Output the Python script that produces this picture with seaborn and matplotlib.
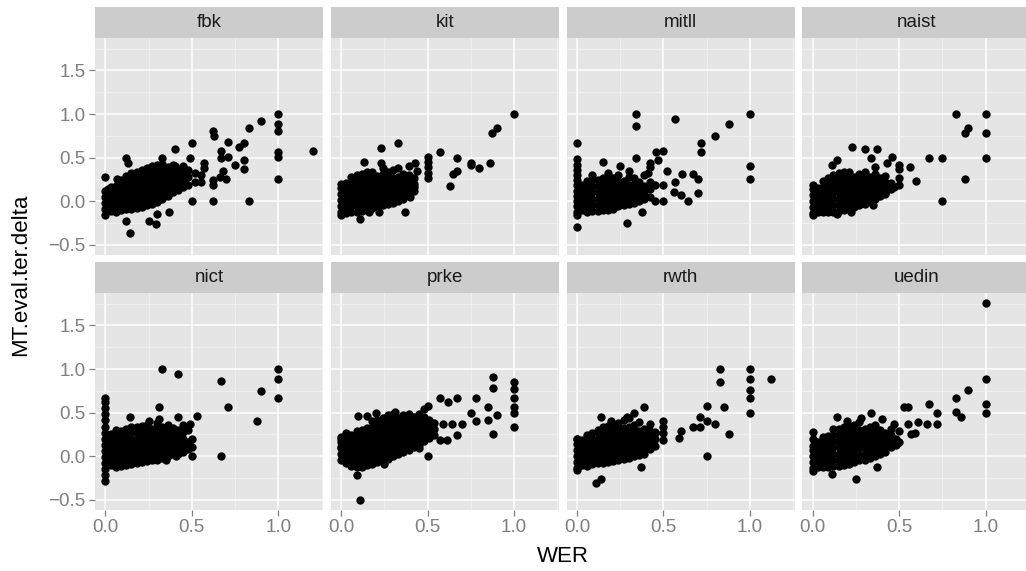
import matplotlib
matplotlib.use("Agg")
import matplotlib.pyplot as plt
import seaborn as sns
import pandas as pd
from matplotlib.ticker import FixedLocator

# ---------------- data ----------------
systems = ["fbk", "kit", "mitll", "naist", "nict", "prke", "rwth", "uedin"]

# isolated points: (WER, MT.eval.ter.delta)
fbk_pts = [(1.0, 1.0), (1.0, 0.89), (1.0, 0.81), (1.0, 0.56), (1.0, 0.51), (1.0, 0.25), (1.2, 0.58),
           (0.90, 0.92), (0.83, 0.84), (0.62, 0.80), (0.63, 0.75), (0.50, 0.67), (0.71, 0.68),
           (0.77, 0.62), (0.80, 0.67), (0.67, 0.58), (0.67, 0.50), (0.71, 0.51), (0.80, 0.47),
           (0.75, 0.42), (0.80, 0.37), (0.83, 0.0), (0.62, 0.0), (0.50, 0.0), (0.40, 0.60),
           (0.33, 0.50), (0.12, 0.50), (0.13, 0.44), (0.49, 0.50), (0.57, 0.44), (0.0, 0.28),
           (0.0, -0.16), (0.14, -0.37), (0.12, -0.23), (0.25, -0.23), (0.29, -0.26), (0.30, -0.15),
           (0.37, -0.12), (0.07, 0.25), (0.62, 0.24), (0.62, 0.18), (0.66, 0.28), (0.70, 0.25),
           (0.68, 0.35), (0.55, 0.30), (0.57, 0.38), (0.55, 0.22)]
kit_pts = [(1.0, 1.0), (0.90, 0.84), (0.87, 0.78), (0.33, 0.67), (0.23, 0.61), (0.57, 0.56),
           (0.67, 0.50), (0.75, 0.44), (0.75, 0.41), (0.80, 0.38), (0.86, 0.44), (0.67, 0.35),
           (0.65, 0.31), (0.63, 0.17), (0.5, 0.51), (0.5, 0.45), (0.5, 0.39), (0.5, 0.32),
           (0.5, 0.26), (0.43, 0.44), (0.44, 0.35), (0.13, 0.45), (0.23, 0.44), (0.0, 0.20),
           (0.0, -0.16), (0.11, -0.20), (0.37, -0.12), (0.16, -0.12), (0.22, -0.12), (0.42, 0.16),
           (0.40, 0.05)]
mitll_pts = [(1.0, 1.0), (1.0, 0.40), (1.0, 0.25), (0.88, 0.89), (0.80, 0.75), (0.72, 0.67),
             (0.72, 0.56), (0.57, 0.94), (0.34, 1.0), (0.34, 0.86), (0.34, 0.50), (0.46, 0.56),
             (0.50, 0.58), (0.42, 0.44), (0.47, 0.47), (0.52, 0.35), (0.15, 0.45), (0.25, 0.40),
             (0.0, 0.67), (0.0, -0.16), (0.0, -0.30), (0.29, -0.25), (0.375, -0.12), (0.57, 0.22),
             (0.61, 0.31), (0.67, 0.31), (0.70, 0.25), (0.56, 0.10), (0.60, 0.07), (0.64, 0.0),
             (0.70, 0.09), (0.50, 0.0), (0.45, 0.0), (0.50, 0.19), (0.45, 0.19), (0.41, 0.32),
             (0.42, 0.39)]
naist_pts = [(1.0, 1.0), (0.83, 1.0), (1.0, 0.78), (0.90, 0.84), (0.88, 0.78), (1.0, 0.50),
             (0.88, 0.25), (0.75, 0.0), (0.67, 0.50), (0.75, 0.50), (0.60, 0.23), (0.56, 0.39),
             (0.50, 0.41), (0.50, 0.37), (0.46, 0.51), (0.43, 0.44), (0.23, 0.62), (0.30, 0.60),
             (0.37, 0.60), (0.34, 0.50), (0.14, 0.47), (0.11, 0.42), (0.36, 0.39), (0.0, 0.19),
             (0.0, -0.16), (0.14, -0.15), (0.22, -0.12), (0.35, -0.04), (0.5, 0.26), (0.5, 0.18),
             (0.42, 0.09), (0.47, 0.16)]
nict_pts = [(1.0, 1.0), (1.0, 0.89), (1.0, 0.67), (0.90, 0.75), (0.875, 0.40), (0.67, 0.86),
            (0.71, 0.56), (0.67, 0.0), (0.33, 1.0), (0.42, 0.94), (0.31, 0.56), (0.53, 0.46),
            (0.49, 0.37), (0.5, 0.20), (0.5, 0.10), (0.5, 0.0), (0.42, 0.45), (0.14, 0.45),
            (0.25, 0.40), (0.31, 0.43), (0.35, -0.05), (0.41, 0.0)]
prke_pts = [(1.0, 0.85), (1.0, 0.77), (1.0, 0.67), (1.0, 0.56), (1.0, 0.50), (1.0, 0.34),
            (0.88, 0.91), (0.88, 0.78), (0.85, 0.56), (0.90, 0.47), (0.85, 0.41), (0.88, 0.25),
            (0.78, 0.67), (0.78, 0.40), (0.75, 0.50), (0.67, 0.67), (0.62, 0.62), (0.57, 0.67),
            (0.70, 0.37), (0.67, 0.24), (0.64, 0.37), (0.59, 0.37), (0.57, 0.18), (0.61, 0.19),
            (0.5, 0.57), (0.5, 0.0), (0.10, 0.46), (0.15, 0.46), (0.20, 0.50), (0.27, 0.47),
            (0.31, 0.51), (0.39, 0.45), (0.46, 0.45), (0.11, -0.50), (0.09, -0.22), (0.25, -0.09),
            (0.45, 0.09), (0.0, 0.20), (0.0, 0.11)]
rwth_pts = [(1.0, 1.0), (1.0, 0.88), (1.0, 0.76), (1.0, 0.67), (1.0, 0.50), (1.12, 0.89),
            (0.83, 1.0), (0.83, 0.85), (0.75, 0.57), (0.85, 0.56), (0.71, 0.45), (0.75, 0.40),
            (0.80, 0.37), (0.67, 0.34), (0.71, 0.34), (0.88, 0.25), (0.75, 0.0), (0.60, 0.29),
            (0.59, 0.21), (0.5, 0.40), (0.5, 0.34), (0.5, 0.27), (0.5, 0.18), (0.39, 0.56),
            (0.33, 0.50), (0.29, 0.45), (0.20, 0.40), (0.14, 0.45), (0.42, 0.37), (0.45, 0.26),
            (0.37, -0.13), (0.11, -0.31), (0.14, -0.26), (0.0, -0.16), (0.0, 0.20)]
uedin_pts = [(1.0, 1.76), (1.0, 0.89), (1.0, 0.60), (1.0, 0.50), (0.90, 0.76), (0.83, 0.67),
             (0.83, 0.51), (0.86, 0.45), (0.67, 0.60), (0.72, 0.50), (0.72, 0.37), (0.66, 0.37),
             (0.53, 0.56), (0.55, 0.56), (0.61, 0.39), (0.55, 0.37), (0.59, 0.27), (0.57, 0.25),
             (0.47, 0.37), (0.50, 0.29), (0.50, 0.16), (0.14, 0.45), (0.20, 0.40), (0.28, 0.44),
             (0.34, 0.50), (0.40, 0.43), (0.0, 0.28), (0.0, 0.20), (0.0, -0.17), (0.11, -0.20),
             (0.25, -0.26), (0.37, -0.13)]

# dense clusters, read column by column: (WER, [MT.eval.ter.delta values])
fbk_cluster = [(0.00, [-0.09, -0.02, 0.05, 0.12]), (0.03, [-0.11, -0.04, 0.03, 0.10, 0.16]),
               (0.06, [-0.12, -0.05, 0.02, 0.09, 0.17]), (0.09, [-0.10, -0.03, 0.04, 0.11, 0.19, 0.24]),
               (0.12, [-0.09, -0.02, 0.06, 0.13, 0.21, 0.29]), (0.15, [-0.09, -0.01, 0.08, 0.16, 0.24, 0.32]),
               (0.18, [-0.08, 0.00, 0.10, 0.18, 0.26, 0.33]), (0.21, [-0.07, 0.02, 0.12, 0.20, 0.28, 0.36]),
               (0.24, [-0.05, 0.05, 0.14, 0.22, 0.30, 0.38]), (0.27, [-0.03, 0.07, 0.17, 0.25, 0.33, 0.40]),
               (0.30, [-0.01, 0.09, 0.19, 0.27, 0.35, 0.41]), (0.33, [0.02, 0.12, 0.21, 0.29, 0.37, 0.43]),
               (0.36, [0.06, 0.15, 0.23, 0.31, 0.39]), (0.39, [0.10, 0.18, 0.26, 0.34, 0.42]),
               (0.42, [0.13, 0.21, 0.29, 0.37]), (0.45, [0.16, 0.24, 0.32, 0.40]),
               (0.48, [0.19, 0.28, 0.36]), (0.52, [0.22, 0.32]),
               (0.015, [-0.06, 0.01, 0.08, 0.14]), (0.045, [-0.08, -0.01, 0.06, 0.13]),
               (0.075, [-0.09, -0.01, 0.06, 0.13, 0.20]), (0.105, [-0.06, 0.01, 0.08, 0.15, 0.22]),
               (0.135, [-0.05, 0.02, 0.10, 0.17, 0.25]), (0.165, [-0.04, 0.04, 0.12, 0.20, 0.28]),
               (0.195, [-0.03, 0.06, 0.14, 0.22, 0.30]), (0.225, [-0.02, 0.08, 0.16, 0.24, 0.32]),
               (0.255, [0.00, 0.10, 0.18, 0.26, 0.34]), (0.285, [0.03, 0.13, 0.21, 0.29, 0.37]),
               (0.315, [0.05, 0.15, 0.23, 0.31, 0.39]), (0.345, [0.09, 0.18, 0.26, 0.34]),
               (0.375, [0.12, 0.20, 0.28, 0.36]), (0.405, [0.16, 0.24, 0.32, 0.40]),
               (0.435, [0.19, 0.27, 0.35])]
kit_cluster = [(0.00, [-0.13, -0.06, 0.01, 0.08, 0.15]), (0.03, [-0.14, -0.07, 0.00, 0.07, 0.14, 0.21]),
               (0.06, [-0.13, -0.06, 0.01, 0.08, 0.15, 0.22, 0.28]), (0.09, [-0.12, -0.05, 0.02, 0.09, 0.16, 0.23, 0.30]),
               (0.12, [-0.11, -0.04, 0.03, 0.10, 0.17, 0.24, 0.31]), (0.15, [-0.10, -0.03, 0.04, 0.11, 0.18, 0.25, 0.33]),
               (0.18, [-0.08, -0.01, 0.06, 0.13, 0.20, 0.27, 0.34]), (0.21, [-0.06, 0.01, 0.08, 0.15, 0.22, 0.29]),
               (0.24, [-0.04, 0.03, 0.10, 0.17, 0.24, 0.31, 0.38]), (0.27, [-0.03, 0.04, 0.11, 0.18, 0.25, 0.33]),
               (0.30, [-0.02, 0.05, 0.12, 0.19, 0.26, 0.36]), (0.33, [0.00, 0.07, 0.14, 0.21, 0.28, 0.38]),
               (0.36, [0.03, 0.10, 0.17, 0.24, 0.31]), (0.39, [0.08, 0.15, 0.22, 0.30, 0.40]),
               (0.42, [0.12, 0.20, 0.27])]
mitll_cluster = [(0.00, [-0.12, -0.06, 0.00, 0.06, 0.12, 0.18, 0.24, 0.30, 0.36, 0.42, 0.48]),
                 (0.03, [-0.10, -0.03, 0.04, 0.11, 0.18]), (0.06, [-0.12, -0.05, 0.02, 0.09, 0.16, 0.23]),
                 (0.09, [-0.11, -0.04, 0.03, 0.10, 0.17, 0.24, 0.30]), (0.12, [-0.11, -0.04, 0.03, 0.10, 0.17, 0.24]),
                 (0.15, [-0.10, -0.03, 0.04, 0.11, 0.18, 0.26]), (0.18, [-0.10, -0.03, 0.04, 0.11, 0.18, 0.25, 0.32]),
                 (0.21, [-0.09, -0.02, 0.05, 0.12, 0.19, 0.27]), (0.24, [-0.06, 0.01, 0.08, 0.15, 0.22, 0.30]),
                 (0.27, [-0.05, 0.02, 0.09, 0.16, 0.23]), (0.30, [-0.03, 0.04, 0.11, 0.18, 0.28, 0.35]),
                 (0.33, [-0.02, 0.05, 0.12, 0.20, 0.26]), (0.36, [0.00, 0.07, 0.14, 0.22]),
                 (0.39, [0.02, 0.10, 0.17, 0.30]), (0.42, [0.05, 0.14, 0.22])]
naist_cluster = [(0.00, [-0.14, -0.07, 0.00, 0.07, 0.14]), (0.03, [-0.13, -0.06, 0.01, 0.08, 0.15]),
                 (0.06, [-0.12, -0.05, 0.02, 0.09, 0.16, 0.23]), (0.09, [-0.13, -0.06, 0.01, 0.08, 0.15, 0.22, 0.27]),
                 (0.12, [-0.12, -0.05, 0.02, 0.09, 0.16, 0.23, 0.30]), (0.15, [-0.11, -0.04, 0.03, 0.10, 0.17, 0.24, 0.32]),
                 (0.18, [-0.10, -0.03, 0.04, 0.11, 0.18, 0.25, 0.33]), (0.21, [-0.09, -0.02, 0.05, 0.12, 0.19, 0.26, 0.34]),
                 (0.24, [-0.07, 0.00, 0.07, 0.14, 0.21, 0.28]), (0.27, [-0.05, 0.02, 0.09, 0.16, 0.23, 0.31]),
                 (0.30, [-0.03, 0.04, 0.11, 0.18, 0.25, 0.34]), (0.33, [0.00, 0.07, 0.14, 0.21, 0.28]),
                 (0.36, [0.03, 0.10, 0.17, 0.24, 0.31]), (0.39, [0.06, 0.13, 0.20, 0.27]),
                 (0.42, [0.08, 0.15, 0.22, 0.29]), (0.45, [0.14, 0.21])]
nict_cluster = [(0.00, [-0.29, -0.22, -0.15, -0.08, -0.01, 0.06, 0.13, 0.20, 0.27, 0.34, 0.41, 0.48, 0.55, 0.62, 0.67]),
                (0.03, [-0.10, -0.03, 0.04, 0.11, 0.18, 0.25]), (0.06, [-0.12, -0.05, 0.02, 0.09, 0.16, 0.23, 0.30]),
                (0.09, [-0.11, -0.04, 0.03, 0.10, 0.17, 0.24, 0.29]), (0.12, [-0.10, -0.03, 0.04, 0.11, 0.18, 0.25, 0.31]),
                (0.15, [-0.09, -0.02, 0.05, 0.12, 0.19, 0.26, 0.33]), (0.18, [-0.08, -0.01, 0.06, 0.13, 0.20, 0.27, 0.33]),
                (0.21, [-0.07, 0.00, 0.07, 0.14, 0.21, 0.28, 0.35]), (0.24, [-0.06, 0.01, 0.08, 0.15, 0.22, 0.29, 0.36]),
                (0.27, [-0.04, 0.03, 0.10, 0.17, 0.24, 0.31]), (0.30, [-0.05, 0.02, 0.09, 0.16, 0.23, 0.30, 0.38]),
                (0.33, [-0.02, 0.05, 0.12, 0.19, 0.26, 0.33]), (0.36, [0.00, 0.07, 0.14, 0.21, 0.28, 0.36]),
                (0.39, [0.03, 0.10, 0.17, 0.24, 0.32]), (0.42, [0.02, 0.09, 0.16, 0.23, 0.30]),
                (0.45, [0.05, 0.12, 0.20, 0.28, 0.36]), (0.48, [0.08, 0.16, 0.30])]
prke_cluster = [(0.00, [-0.05, 0.02, 0.09, 0.16, 0.22]), (0.03, [-0.08, -0.01, 0.06, 0.13, 0.20, 0.26]),
                (0.06, [-0.11, -0.04, 0.03, 0.10, 0.17, 0.24]), (0.09, [-0.13, -0.06, 0.01, 0.08, 0.15, 0.22, 0.29]),
                (0.12, [-0.12, -0.05, 0.02, 0.09, 0.16, 0.23, 0.30]), (0.15, [-0.10, -0.03, 0.04, 0.11, 0.18, 0.25, 0.32]),
                (0.18, [-0.09, -0.02, 0.05, 0.12, 0.19, 0.26, 0.33, 0.40]), (0.21, [-0.07, 0.00, 0.07, 0.14, 0.21, 0.28, 0.35, 0.42]),
                (0.24, [-0.05, 0.02, 0.09, 0.16, 0.23, 0.30, 0.37, 0.44]), (0.27, [-0.03, 0.04, 0.11, 0.18, 0.25, 0.32, 0.39, 0.46]),
                (0.30, [0.00, 0.07, 0.14, 0.21, 0.28, 0.35, 0.42, 0.48]), (0.33, [0.02, 0.09, 0.16, 0.23, 0.30, 0.37, 0.44]),
                (0.36, [0.05, 0.12, 0.19, 0.26, 0.33, 0.40, 0.47]), (0.39, [0.07, 0.14, 0.21, 0.28, 0.35, 0.42, 0.48]),
                (0.42, [0.10, 0.17, 0.24, 0.31, 0.38, 0.45]), (0.45, [0.13, 0.20, 0.27, 0.34, 0.41, 0.48]),
                (0.48, [0.17, 0.24, 0.31, 0.38, 0.45, 0.54]), (0.51, [0.21, 0.28, 0.35, 0.42]),
                (0.54, [0.24, 0.31, 0.38])]
rwth_cluster = [(0.00, [-0.14, -0.07, 0.00, 0.07, 0.14, 0.20]), (0.03, [-0.10, -0.03, 0.04, 0.11, 0.18]),
                (0.06, [-0.11, -0.04, 0.03, 0.10, 0.17, 0.24]), (0.09, [-0.09, -0.02, 0.05, 0.12, 0.19, 0.26]),
                (0.12, [-0.08, -0.01, 0.06, 0.13, 0.20, 0.27, 0.30]), (0.15, [-0.08, -0.01, 0.06, 0.13, 0.20, 0.27, 0.33]),
                (0.18, [-0.07, 0.00, 0.07, 0.14, 0.21, 0.28, 0.35]), (0.21, [-0.06, 0.01, 0.08, 0.15, 0.22, 0.29, 0.36]),
                (0.24, [-0.05, 0.02, 0.09, 0.16, 0.23, 0.30, 0.38]), (0.27, [-0.03, 0.04, 0.11, 0.18, 0.25, 0.32, 0.42]),
                (0.30, [-0.02, 0.05, 0.12, 0.19, 0.26, 0.34, 0.44]), (0.33, [0.00, 0.07, 0.14, 0.21, 0.28, 0.36]),
                (0.36, [0.01, 0.08, 0.15, 0.22, 0.29, 0.39]), (0.39, [0.03, 0.10, 0.17, 0.24, 0.31]),
                (0.42, [0.08, 0.15, 0.22, 0.29]), (0.45, [0.12, 0.20, 0.28])]
uedin_cluster = [(0.00, [-0.14, -0.07, 0.00, 0.07, 0.12]), (0.03, [-0.12, -0.05, 0.02, 0.09, 0.16]),
                 (0.06, [-0.13, -0.06, 0.01, 0.08, 0.15, 0.22]), (0.09, [-0.12, -0.05, 0.02, 0.09, 0.16, 0.23]),
                 (0.12, [-0.11, -0.04, 0.03, 0.10, 0.17, 0.24, 0.31]), (0.15, [-0.11, -0.04, 0.03, 0.10, 0.17, 0.24, 0.31]),
                 (0.18, [-0.10, -0.03, 0.04, 0.11, 0.18, 0.25, 0.33]), (0.21, [-0.09, -0.02, 0.05, 0.12, 0.19, 0.26, 0.34]),
                 (0.24, [-0.07, 0.00, 0.07, 0.14, 0.21, 0.28, 0.36]), (0.27, [-0.05, 0.02, 0.09, 0.16, 0.23, 0.30, 0.39]),
                 (0.30, [-0.04, 0.03, 0.10, 0.17, 0.24, 0.31]), (0.33, [-0.02, 0.05, 0.12, 0.19, 0.26, 0.34]),
                 (0.36, [0.00, 0.07, 0.14, 0.21, 0.28, 0.36]), (0.39, [0.02, 0.09, 0.16, 0.23, 0.30]),
                 (0.42, [0.05, 0.12, 0.19, 0.26]), (0.45, [0.10, 0.17, 0.24, 0.31]), (0.48, [0.13, 0.20])]

x_ticks = [0.0, 0.5, 1.0]
y_ticks = [-0.5, 0.0, 0.5, 1.0, 1.5]
x_tick_labels = ["0.0", "0.5", "1.0"]
y_tick_labels = ["\u22120.5", "0.0", "0.5", "1.0", "1.5"]
x_label = "WER"
y_label = "MT.eval.ter.delta"

pts_by_sys = dict(zip(systems, [fbk_pts, kit_pts, mitll_pts, naist_pts, nict_pts, prke_pts, rwth_pts, uedin_pts]))
clu_by_sys = dict(zip(systems, [fbk_cluster, kit_cluster, mitll_cluster, naist_cluster, nict_cluster,
                                prke_cluster, rwth_cluster, uedin_cluster]))

rows = []
for s in systems:
    for (xv, yv) in pts_by_sys[s]:
        rows.append((s, xv, yv))
    for (xv, ys) in clu_by_sys[s]:
        for yv in ys:
            rows.append((s, xv, yv))
df = pd.DataFrame(rows, columns=["system", x_label, y_label])

# ---------------- style ----------------
sns.set_theme(style="white")
plt.rcParams["font.family"] = ["Liberation Sans", "DejaVu Sans"]

W, H = 1026, 571
g = sns.FacetGrid(df, col="system", col_wrap=4, col_order=systems, sharex=True, sharey=True,
                  height=2.5, aspect=1.0, despine=False)
g.map_dataframe(sns.scatterplot, x=x_label, y=y_label, color="black", s=36, linewidth=0)
fig = g.figure
fig.set_size_inches(W / 100, H / 100)
fig.set_dpi(100)
fig.patch.set_facecolor("white")

grey50 = "#7F7F7F"
lefts = [95, 330.7, 566.5, 802.3]
pw = 228.3
row_tops = [38, 293]
ph = 216.5
strip_h = 30.8
tick_fs = 13.5

for i, ax in enumerate(g.axes.flat):
    r, c = divmod(i, 4)
    x0 = lefts[c]
    top = row_tops[r]
    ax.set_position([x0 / W, (H - top - ph) / H, pw / W, ph / H])
    ax.set_facecolor("#E5E5E5")
    ax.set_xlim(-0.06, 1.26)
    ax.set_ylim(-0.613, 1.873)
    ax.xaxis.set_major_locator(FixedLocator(x_ticks))
    ax.yaxis.set_major_locator(FixedLocator(y_ticks))
    ax.xaxis.set_minor_locator(FixedLocator([0.25, 0.75, 1.25]))
    ax.yaxis.set_minor_locator(FixedLocator([-0.25, 0.25, 0.75, 1.25, 1.75]))
    ax.grid(which="major", color="white", linewidth=1.1)
    ax.grid(which="minor", color="#F2F2F2", linewidth=0.6)
    ax.set_axisbelow(True)
    for sp in ax.spines.values():
        sp.set_visible(False)
    ax.tick_params(which="major", length=4.5, width=0.9, color=grey50, labelcolor=grey50,
                   labelsize=tick_fs, pad=2.5, direction="out")
    ax.tick_params(which="minor", length=0)
    ax.set_xticklabels(x_tick_labels)
    ax.set_yticklabels(y_tick_labels)
    ax.tick_params(axis="x", labelbottom=(r == 1), bottom=(r == 1))
    ax.tick_params(axis="y", labelleft=(c == 0), left=(c == 0))
    ax.set_xlabel("")
    ax.set_ylabel("")
    ax.set_title("")
    # facet strip
    sax = fig.add_axes([x0 / W, (H - top) / H, pw / W, strip_h / H])
    sax.set_facecolor("#CCCCCC")
    sax.set_xticks([])
    sax.set_yticks([])
    for sp in sax.spines.values():
        sp.set_visible(False)
    sax.text(0.5, 0.5, systems[i], ha="center", va="center", fontsize=tick_fs, color="#1A1A1A",
             transform=sax.transAxes)

fig.text(563 / W, (H - 557) / H, x_label, ha="center", va="center", fontsize=16, color="black")
fig.text(21 / W, (H - 275) / H, y_label, ha="center", va="center", rotation=90, fontsize=16, color="black")

fig.savefig("out.png", dpi=100, facecolor="white")
